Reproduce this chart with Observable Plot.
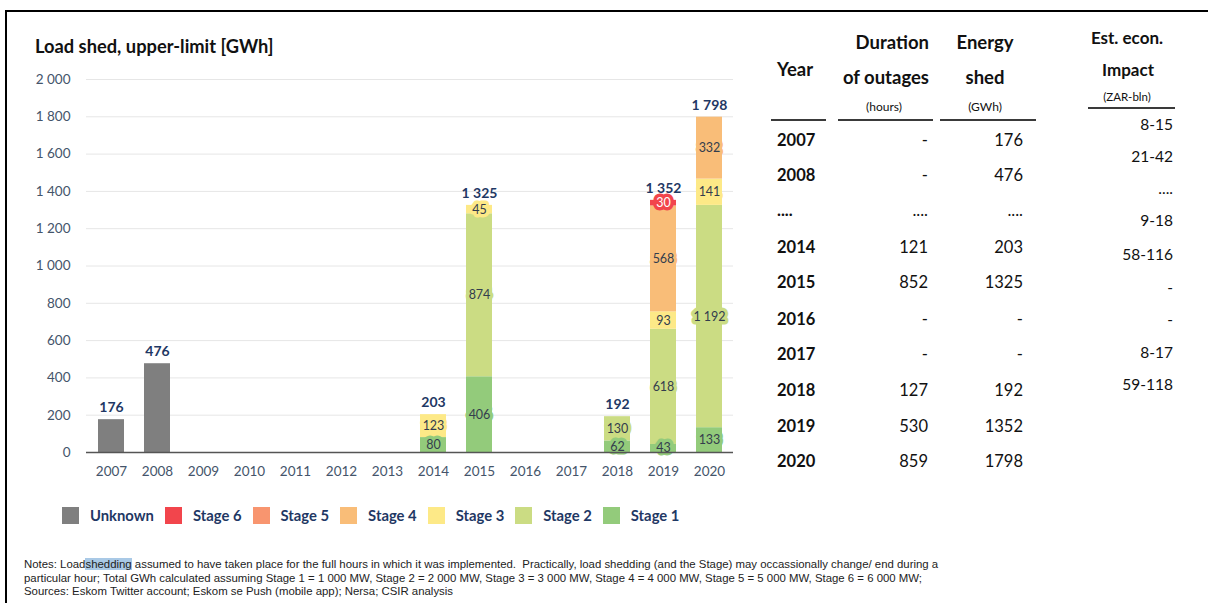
<!DOCTYPE html>
<html>
<head>
<meta charset="utf-8">
<script src="https://cdn.jsdelivr.net/npm/d3@7"></script>
<script src="https://cdn.jsdelivr.net/npm/@observablehq/plot@0.6"></script>
<style>
  html, body { margin: 0; padding: 0; background: #fff; }
  body { width: 1208px; height: 603px; position: relative; overflow: hidden; font-family: Lato, "Open Sans", sans-serif; }
  .frame { position: absolute; left: 5px; top: 10px; right: -10px; bottom: -10px; border-left: 2px solid #000; border-top: 2px solid #000; }
  .title { position: absolute; left: 35px; top: 35px; font-weight: 700; font-size: 18.3px; color: #111; }
  #chart { position: absolute; left: 0; top: 0; }
  .legend { position: absolute; left: 62px; top: 506px; display: flex; align-items: center; font-weight: 700; font-size: 14.8px; color: #1f3864; }
  .legend .item { display: flex; align-items: center; margin-right: 11px; }
  .legend .sw { width: 17px; height: 17px; margin-right: 11px; }
  .t { position: absolute; white-space: nowrap; color: #111; line-height: 1; }
  .b { font-weight: 700; }
  .hl { position: absolute; height: 2px; background: #3a3a3a; }
  .notes { position: absolute; left: 24px; top: 558px; font-family: "Liberation Sans", Arial, sans-serif; font-size: 11.4px; line-height: 13.5px; color: #222; white-space: nowrap; }
  .notes .sel { background: #a9c9e6; }
</style>
</head>
<body>
<div class="frame"></div>
<div id="chart"></div>
<div class="title">Load shed, upper-limit [GWh]</div>
<div class="legend" id="legend"></div>
<div id="table"></div>
<div class="notes">Notes: Load<span class="sel">shedding</span> assumed to have taken place for the full hours in which it was implemented.&nbsp; Practically, load shedding (and the Stage) may occassionally change/ end during a<br>particular hour; Total GWh calculated assuming Stage 1 = 1 000 MW, Stage 2 = 2 000 MW, Stage 3 = 3 000 MW, Stage 4 = 4 000 MW, Stage 5 = 5 000 MW, Stage 6 = 6 000 MW;<br>Sources: Eskom Twitter account; Eskom se Push (mobile app); Nersa; CSIR analysis</div>
<script>
// ---------- data ----------
const years = ["2007","2008","2009","2010","2011","2012","2013","2014","2015","2016","2017","2018","2019","2020"];
const unknown = [176, 476, 0, 0, 0, 0, 0, 0, 0, 0, 0, 0, 0, 0];
const stage1  = [0, 0, 0, 0, 0, 0, 0, 80, 406, 0, 0, 62, 43, 133];
const stage2  = [0, 0, 0, 0, 0, 0, 0, 0, 874, 0, 0, 130, 618, 1192];
const stage3  = [0, 0, 0, 0, 0, 0, 0, 123, 45, 0, 0, 0, 93, 141];
const stage4  = [0, 0, 0, 0, 0, 0, 0, 0, 0, 0, 0, 0, 568, 332];
const stage5  = [0, 0, 0, 0, 0, 0, 0, 0, 0, 0, 0, 0, 0, 0];
const stage6  = [0, 0, 0, 0, 0, 0, 0, 0, 0, 0, 0, 0, 30, 0];
const totals  = [176, 476, null, null, null, null, null, 203, 1325, null, null, 192, 1352, 1798];
const yTicks = [0, 200, 400, 600, 800, 1000, 1200, 1400, 1600, 1800, 2000];

const legendNames = ["Unknown", "Stage 6", "Stage 5", "Stage 4", "Stage 3", "Stage 2", "Stage 1"];
const legendColors = ["#7f7f7f", "#f2454c", "#f8956f", "#f9bd78", "#fde987", "#cbdc83", "#93cb7b"];
const stackOrder = ["Unknown", "Stage 1", "Stage 2", "Stage 3", "Stage 4", "Stage 5", "Stage 6"];

// table data
const tblYears    = ["2007", "2008", "....", "2014", "2015", "2016", "2017", "2018", "2019", "2020"];
const tblDuration = ["-", "-", "....", "121", "852", "-", "-", "127", "530", "859"];
const tblEnergy   = ["176", "476", "....", "203", "1325", "-", "-", "192", "1352", "1798"];
const tblImpact   = ["8-15", "21-42", "....", "9-18", "58-116", "-", "-", "8-17", "59-118"];

// ---------- build ----------
const seriesVals = {"Unknown": unknown, "Stage 1": stage1, "Stage 2": stage2, "Stage 3": stage3, "Stage 4": stage4, "Stage 5": stage5, "Stage 6": stage6};
const rows = [];
for (const s of stackOrder) {
  seriesVals[s].forEach((v, i) => { if (v > 0) rows.push({year: years[i], series: s, value: v}); });
}
const totRows = years.map((y, i) => ({year: y, total: totals[i]})).filter(d => d.total != null);

const fmt = d3.formatLocale({thousands: "\u00a0", grouping: [3], decimal: "."}).format(",d");

const chart = Plot.plot({
  width: 760,
  height: 480,
  marginLeft: 86,
  marginRight: 27,
  marginTop: 79,
  marginBottom: 28,
  style: {fontFamily: "Lato, sans-serif", fontSize: "13px", color: "#44546a", background: "transparent"},
  x: {domain: years, paddingInner: 0.4376, paddingOuter: 0.216, label: null},
  y: {domain: [0, 2000], label: null},
  color: {domain: legendNames, range: legendColors},
  marks: [
    Plot.gridY(yTicks, {stroke: "#e6e6e6", strokeOpacity: 1, strokeWidth: 1}),
    Plot.axisY({ticks: yTicks, tickFormat: fmt, tickSize: 0, tickPadding: 16, label: null, fontSize: 13.5}),
    Plot.axisX({tickSize: 0, tickPadding: 14, label: null, fontSize: 13.5}),
    Plot.barY(rows, {x: "year", y: "value", fill: "series", order: stackOrder}),
    Plot.text(rows.filter(d => d.series !== "Unknown"), Plot.stackY({
      x: "year", y: "value", order: stackOrder,
      text: d => fmt(d.value),
      fill: d => d.series === "Stage 6" ? "#ffffff" : "#333d4d",
      stroke: "series", strokeWidth: 7, strokeLinejoin: "round", paintOrder: "stroke",
      fontSize: 12.5
    })),
    Plot.text(totRows, {x: "year", y: "total", text: d => fmt(d.total), dy: -12, fontWeight: "bold", fontSize: 14, fill: "#1f3864"}),
    Plot.ruleY([0], {stroke: "#555", strokeWidth: 1.5})
  ]
});
document.getElementById("chart").appendChild(chart);

// legend
const lg = document.getElementById("legend");
legendNames.forEach((n, i) => {
  const it = document.createElement("div");
  it.className = "item";
  it.innerHTML = `<div class="sw" style="background:${legendColors[i]}"></div><span>${n}</span>`;
  lg.appendChild(it);
});

// table
const tb = document.getElementById("table");
function put(text, cls, x, yc, align, size) {
  const d = document.createElement("div");
  d.className = "t " + cls;
  d.textContent = text;
  d.style.fontSize = size + "px";
  d.style.top = (yc - size * 0.55) + "px";
  if (align === "right") { d.style.right = (1208 - x) + "px"; d.style.textAlign = "right"; }
  else if (align === "center") { d.style.left = (x - 100) + "px"; d.style.width = "200px"; d.style.textAlign = "center"; }
  else d.style.left = x + "px";
  tb.appendChild(d);
}
function line(x1, x2, y) {
  const d = document.createElement("div");
  d.className = "hl";
  d.style.left = x1 + "px"; d.style.width = (x2 - x1) + "px"; d.style.top = (y - 1) + "px";
  tb.appendChild(d);
}
put("Year", "b", 777, 70, "left", 18.5);
put("Duration", "b", 929, 43, "right", 18.5);
put("of outages", "b", 929, 78, "right", 18.5);
put("(hours)", "", 884, 108, "center", 12);
put("Energy", "b", 985, 43, "center", 18.5);
put("shed", "b", 985, 78, "center", 18.5);
put("(GWh)", "", 985, 108, "center", 12);
put("Est. econ.", "b", 1127, 38, "center", 17);
put("Impact", "b", 1128, 70, "center", 17);
put("(ZAR-bln)", "", 1127, 97, "center", 11.5);
line(771, 826, 120); line(838, 933, 120); line(940, 1036, 120); line(1088, 1175, 108);
const rowY = [141, 176, 211, 248, 283, 320, 355, 391, 427, 462];
tblYears.forEach((v, i) => put(v, "b", 777, rowY[i], "left", 16.5));
tblDuration.forEach((v, i) => put(v, "", 928, rowY[i], "right", 16.5));
tblEnergy.forEach((v, i) => put(v, "", 1023, rowY[i], "right", 16.5));
const impY = [126, 158, 190, 222, 256, 289, 321, 354, 386];
tblImpact.forEach((v, i) => put(v, "", 1173, impY[i], "right", 15.5));
</script>
</body>
</html>
